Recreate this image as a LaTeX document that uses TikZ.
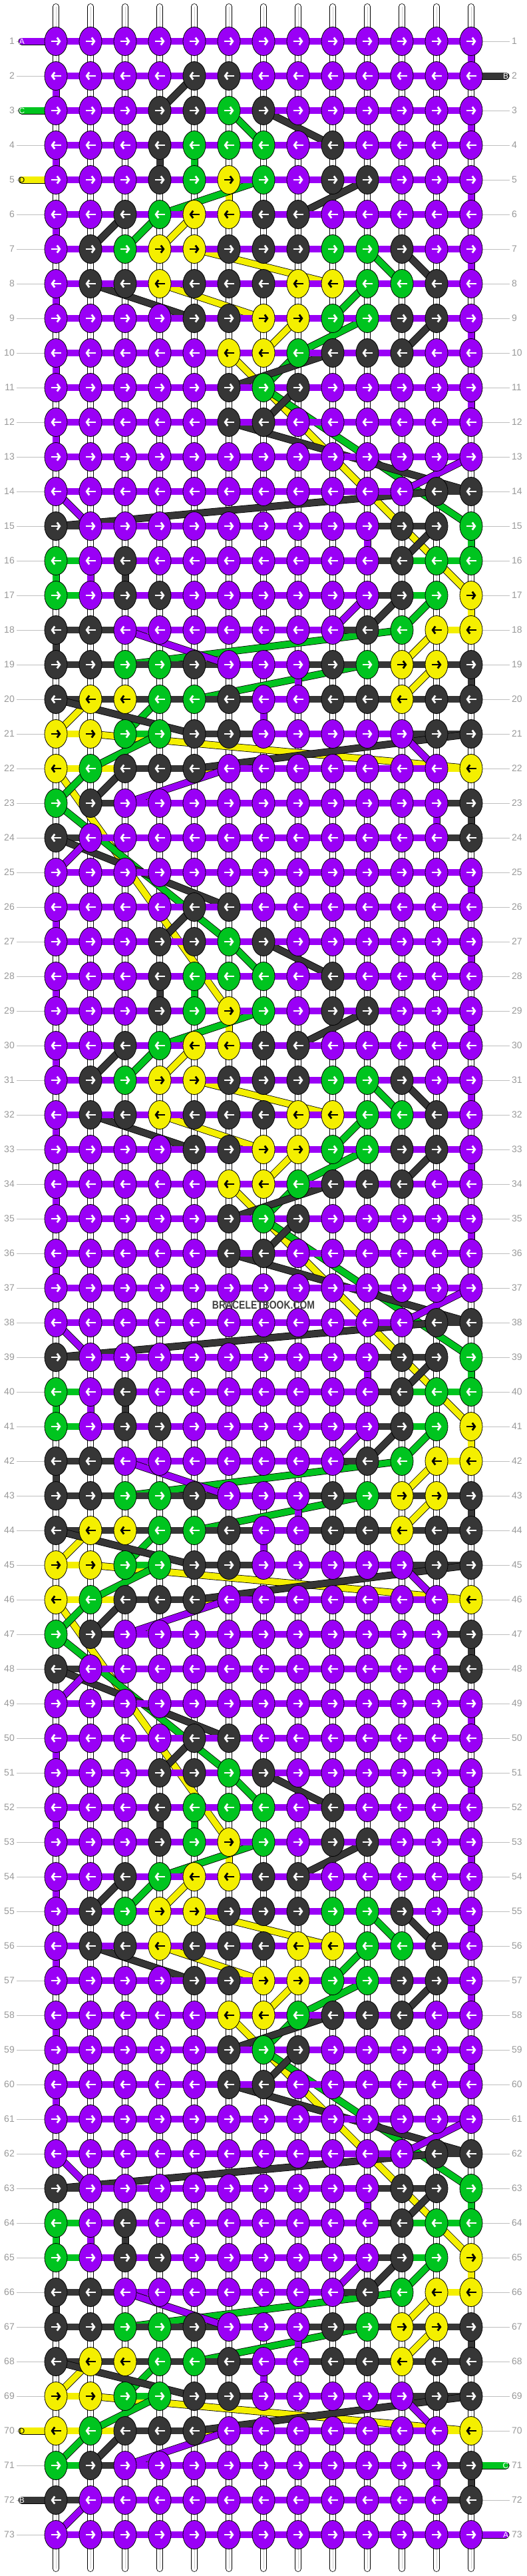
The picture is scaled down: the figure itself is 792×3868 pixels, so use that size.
\documentclass[tikz,border=0pt]{standalone}
\usepackage{fontspec}
\setmainfont{Liberation Sans}
\usetikzlibrary{arrows.meta,shapes.geometric}

\definecolor{cP}{HTML}{9A00F6}
\definecolor{cK}{HTML}{363636}
\definecolor{cG}{HTML}{00C41F}
\definecolor{cY}{HTML}{F4EF00}

\tikzset{
  tube/.style={draw=black, line width=0.8pt, double=white, double distance=8pt, line cap=round},
  tubecore/.style={draw=black!20, line width=0.7pt},
  strand/.style={draw=c#1, line width=10pt},
  link/.style={draw=black, line width=0.8pt, double=c#1, double distance=9.4pt},
  stub/.style={link=#1, line cap=round},
  knot/.style={ellipse, draw=black, line width=0.8pt, fill=c#1, minimum width=34pt, minimum height=43pt, inner sep=0pt},
  knotarrow/.style={draw=#1, line width=2.8pt, -{Straight Barb[length=4pt,width=11pt]}},
  rowlabel/.style={text=black!40, font=\fontsize{14}{14}\selectfont, inner sep=0pt},
  labelline/.style={draw=black!25, line width=1pt},
  stubletter/.style={text=#1, font=\fontsize{12}{12}\selectfont, inner sep=0pt},
  watermark/.style={text=black!75, font=\bfseries\fontsize{17}{17}\selectfont, inner sep=0pt}
}

\newcount\knotcount
\def\splitrow#1#2{\global\knotcount=0 \def\splitrowidx{#1}\splitrowloop#2\relax}
\def\splitrowloop#1{\ifx#1\relax\else
  \global\advance\knotcount by 1
  \expandafter\xdef\csname k\splitrowidx-\the\knotcount\endcsname{#1}%
  \expandafter\splitrowloop\fi}

\begin{document}
\begin{tikzpicture}[x=1pt, y=-1pt]

\useasboundingbox (0,0) rectangle (792,3868);
\fill[white] (0,0) rectangle (792,3868);

% one repeat of 24 rows, P purple, K dark, G green, Y yellow
\foreach \kpat [count=\kidx] in {
  PPPPPPPPPPPPP, PPPPKKPPPPPPP, PPPKKGKPPPPPP, PPPKGGGPKPPPP,
  PPPKGYGPKKPPP, PPKGYYKKPPPPP, PKGYYKKKGGKPP, PKKYKKKYYGGKP,
  PPPPKKYYGGKKP, PPPPPYYGKKKPP, PPPPPKGKPPPPP, PPPPPKKPPPPPP,
  PPPPPPPPPPPPP, PPPPPPPPPPPKK, KPPPPPPPPPKKG, GPKPPPPPPPKGG,
  GPKKPPPPPPKGY, KKPPPPPPPKGYY, KKGGKPPPKGYYK, KYYGGKPPKKYKK,
  YYGGKKPPPPPKK, YGKKKPPPPPPPY, GKPPPPPPPPPPK, KPPPPPPPPPPPK}
  {\edef\tmp{\noexpand\splitrow{\kidx}{\kpat}}\tmp}

\foreach \krow in {1,...,73}{
  \coordinate (l-\krow) at (33,10+52*\krow);
  \coordinate (e-\krow) at (760,10+52*\krow);
  \foreach \kcol in {1,...,13}
    \coordinate (p-\krow-\kcol) at (32+52*\kcol,10+52*\krow);
  \node[rowlabel, anchor=east] (ll-\krow) at (22,10+52*\krow) {\krow};
  \node[rowlabel, anchor=west] (lr-\krow) at (769,10+52*\krow) {\krow};
  \draw[labelline] ([xshift=3pt]ll-\krow.east) -- (p-\krow-1);
  \draw[labelline] (p-\krow-13) -- ([xshift=-3pt]lr-\krow.west);
}

\foreach \kcol in {1,...,13}{
  \coordinate (t-\kcol) at (32+52*\kcol,10);
  \coordinate (b-\kcol) at (32+52*\kcol,3857);
  \draw[tube] (t-\kcol) -- (b-\kcol);
  \draw[tubecore] (t-\kcol) -- (b-\kcol);
}

% strings D, C, B, A: each runs from its first to its last knot in every row
\foreach \kstr/\klet/\ktcol in {Y/D/black, G/C/white, K/B/white, P/A/white}{
  \gdef\kprev{}
  \foreach \krow in {1,...,73}{
    \pgfmathtruncatemacro\kbase{mod(\krow-1,24)+1}
    \gdef\kfirst{0}\gdef\klast{0}
    \foreach \kj in {1,...,13}{
      \ifodd\krow\relax \edef\kcol{\kj}\else \pgfmathtruncatemacro\kcol{14-\kj}\fi
      \edef\kc{\csname k\kbase-\kcol\endcsname}%
      \if\kc\kstr
        \ifnum\kfirst=0 \xdef\kfirst{\kcol}\fi
        \xdef\klast{\kcol}%
      \fi
    }
    \ifnum\kfirst>0
      \ifx\kprev\empty
        \ifodd\krow\relax \gdef\kside{l}\gdef\kedge{1}\else \gdef\kside{e}\gdef\kedge{13}\fi
        \draw[stub=\kstr] (\kside-\krow) -- (p-\krow-\kedge);
        \draw[strand=\kstr] (p-\krow-\kedge) -- (p-\krow-\kfirst);
        \node[stubletter=\ktcol] (s\klet-in) at (\kside-\krow) {\klet};
      \else
        \draw[link=\kstr] (\kprev) -- (p-\krow-\kfirst);
      \fi
      \draw[strand=\kstr] (p-\krow-\kfirst) -- (p-\krow-\klast);
      \xdef\kprev{p-\krow-\klast}%
      \xdef\kend{\krow}%
    \fi
  }
  \ifodd\kend\relax \gdef\kside{e}\gdef\kedge{13}\else \gdef\kside{l}\gdef\kedge{1}\fi
  \draw[strand=\kstr] (\kprev) -- (p-\kend-\kedge);
  \draw[stub=\kstr] (p-\kend-\kedge) -- (\kside-\kend);
  \node[stubletter=\ktcol] (s\klet-out) at (\kside-\kend) {\klet};
}

\foreach \krow in {1,...,73}{
  \pgfmathtruncatemacro\kbase{mod(\krow-1,24)+1}
  \foreach \kcol in {1,...,13}{
    \edef\kc{\csname k\kbase-\kcol\endcsname}%
    \def\acol{white}\if\kc Y\def\acol{black}\fi
    \node[knot=\kc] (n-\krow-\kcol) at (p-\krow-\kcol) {};
    \ifodd\krow\relax
      \draw[knotarrow=\acol] ([xshift=-7.5pt]n-\krow-\kcol.center) -- ([xshift=7.5pt]n-\krow-\kcol.center);
    \else
      \draw[knotarrow=\acol] ([xshift=7.5pt]n-\krow-\kcol.center) -- ([xshift=-7.5pt]n-\krow-\kcol.center);
    \fi
  }
}

\node[watermark] (wm) at (396,1960) {\scalebox{0.82}[1]{BRACELETBOOK.COM}};
\end{tikzpicture}
\end{document}
